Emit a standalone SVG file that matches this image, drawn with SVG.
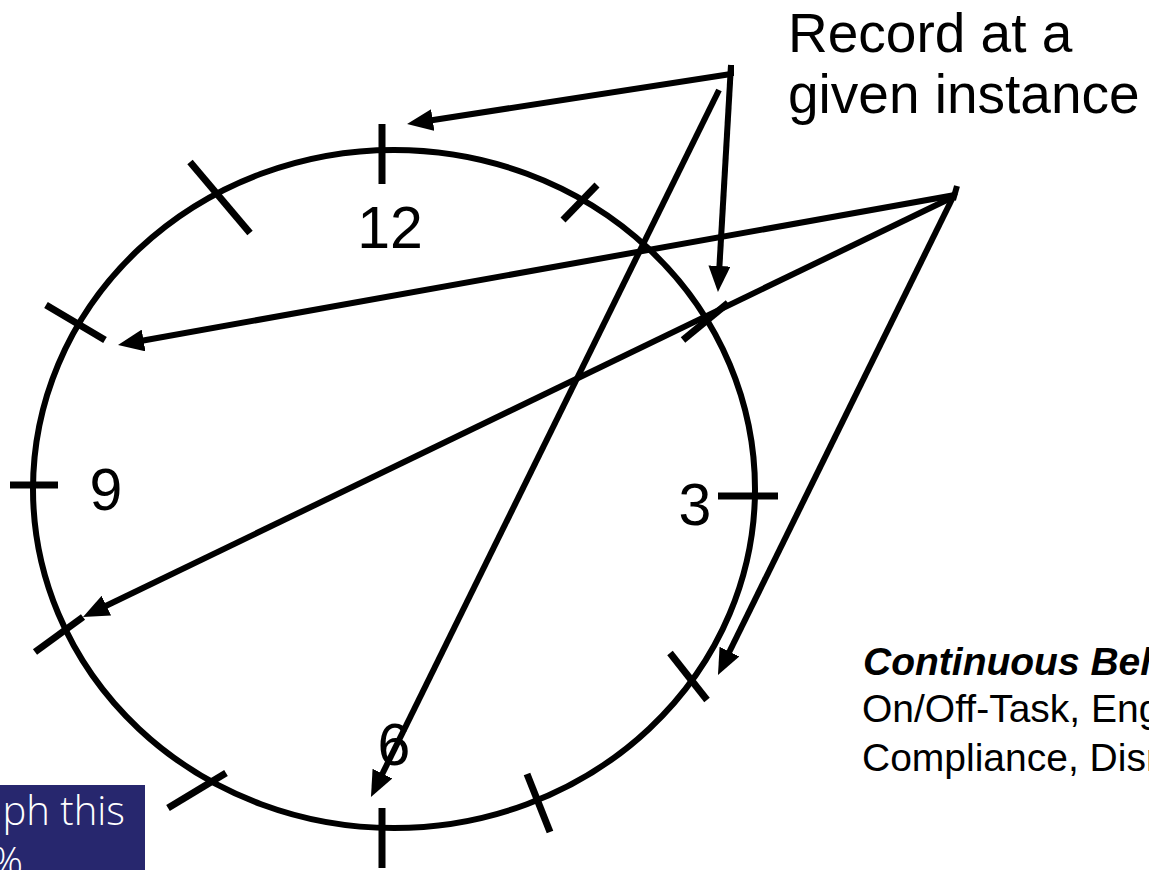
<svg xmlns="http://www.w3.org/2000/svg" width="1149" height="870" viewBox="0 0 1149 870">
<style>
.face{fill:none;stroke:#000;stroke-width:6}
.tick{stroke:#000;stroke-width:7;stroke-linecap:butt;fill:none}
.num{font-family:"Liberation Sans",Arial,sans-serif;font-size:59px;fill:#000;text-anchor:middle}
.conn{stroke:#000;stroke-width:6;fill:none;marker-end:url(#ah)}
.plain{stroke:#000;stroke-width:6;fill:none}
.big{font-family:"Liberation Sans",Arial,sans-serif;font-size:55px;fill:#000}
.note{font-family:"Liberation Sans",Arial,sans-serif;font-size:39px;fill:#000}
.box{fill:#27276e}
.boxtxt{font-family:"Open Sans","Lato","Noto Sans",sans-serif;font-weight:300;font-size:40px;fill:#fff}
</style>
<defs>
<marker id="ah" markerUnits="userSpaceOnUse" markerWidth="26" markerHeight="22" viewBox="0 0 26 22" refX="6" refY="11" orient="auto">
<path d="M0,0 L26,11 L0,22 z" fill="#000"/>
</marker>
</defs>
<g id="clock">
<ellipse class="face" cx="394" cy="489" rx="361" ry="339"/>
</g>
<g id="ticks">
<line id="t12" class="tick" x1="382" y1="124" x2="382" y2="184"/>
<line id="t1" class="tick" x1="597" y1="185" x2="563" y2="220"/>
<line id="t2" class="tick" x1="728" y1="303" x2="683" y2="340"/>
<line id="t3" class="tick" x1="718" y1="496" x2="778" y2="496"/>
<line id="t4" class="tick" x1="670" y1="653" x2="707" y2="700"/>
<line id="t5" class="tick" x1="527" y1="774" x2="550" y2="832"/>
<line id="t6" class="tick" x1="382" y1="808" x2="382" y2="868"/>
<line id="t7" class="tick" x1="168" y1="808" x2="226" y2="773"/>
<line id="t8" class="tick" x1="35" y1="652" x2="83" y2="617"/>
<line id="t9" class="tick" x1="10" y1="485" x2="58" y2="485"/>
<line id="t10" class="tick" x1="46" y1="305" x2="105" y2="340"/>
<line id="t11" class="tick" x1="190" y1="162" x2="250" y2="233"/>
</g>
<g id="numbers">
<text class="num" x="390" y="248">12</text>
<text class="num" x="106" y="510">9</text>
<text class="num" x="695" y="525">3</text>
<text class="num" x="394" y="765">6</text>
</g>
<g id="connectors">
<line class="plain" x1="731" y1="65" x2="731" y2="76"/>
<line class="conn" x1="731" y1="74" x2="426.8" y2="121"/>
<line class="conn" x1="731" y1="65" x2="719.1" y2="272"/>
<line class="conn" x1="719" y1="90" x2="379.8" y2="779"/>
<line class="plain" x1="957" y1="186" x2="953" y2="200"/>
<line class="conn" x1="955" y1="195" x2="137.7" y2="341.5"/>
<line class="conn" x1="953" y1="197" x2="101" y2="608.3"/>
<line class="conn" x1="955" y1="193" x2="726.8" y2="657"/>
</g>
<g id="label-record">
<text class="big" x="788" y="52">Record at a</text>
<text class="big" x="788" y="113">given instance</text>
</g>
<g id="label-continuous">
<text class="note" x="863" y="675" font-weight="bold" font-style="italic">Continuous Behaviors</text>
<text class="note" x="862" y="722">On/Off-Task, Engagement,</text>
<text class="note" x="862" y="771">Compliance, Disruption</text>
</g>
<g id="note-box">
<rect class="box" x="0" y="785" width="145" height="90"/>
<text class="boxtxt" x="125" y="825" text-anchor="end">ph this</text>
<text class="boxtxt" x="23" y="876" text-anchor="end">%</text>
</g>
</svg>
